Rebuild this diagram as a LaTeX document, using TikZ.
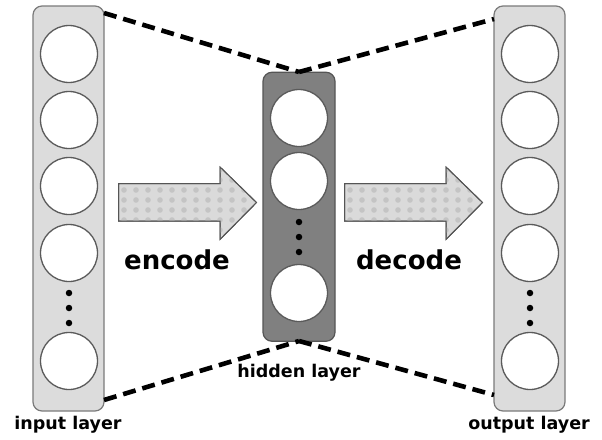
\documentclass[tikz,border=0pt]{standalone}
\usepackage{fontspec}
\setmainfont{DejaVu Sans}
\definecolor{boxfill}{HTML}{DCDCDC}
\definecolor{boxline}{HTML}{7A7A7A}
\definecolor{hidfill}{HTML}{808080}
\definecolor{hidline}{HTML}{555555}
\definecolor{cirline}{HTML}{5A5A5A}
\definecolor{arrfill}{HTML}{DADADA}
\definecolor{arrdot}{HTML}{C4C4C4}
\definecolor{arrline}{HTML}{555555}
\tikzset{
  layerbox/.style={draw=boxline, fill=boxfill, line width=1.2pt, rounded corners=9pt,
    minimum width=71pt, minimum height=405pt, inner sep=0pt},
  hiddenbox/.style={draw=hidline, fill=hidfill, line width=1.2pt, rounded corners=9pt,
    minimum width=72pt, minimum height=269pt, inner sep=0pt},
  neuron/.style={circle, draw=cirline, fill=white, line width=1.3pt, minimum size=57pt, inner sep=0pt},
  dotmark/.style={circle, fill=black, minimum size=6.5pt, inner sep=0pt},
  conn/.style={line width=4.6pt, dash pattern=on 13pt off 7pt},
  caption/.style={font=\bfseries\fontsize{17.5}{17.5}\selectfont, anchor=base, inner sep=0pt},
  bigcap/.style={font=\bfseries\fontsize{26}{26}\selectfont, anchor=base, inner sep=0pt},
  arrowshape/.style={fill=arrfill, draw=arrline, line width=1pt, line join=miter}
}
\begin{document}
\begin{tikzpicture}[x=1pt, y=-1pt]
\useasboundingbox (0,0) rectangle (602,439);
% layer boxes
\node[layerbox] (inbox) at (68.5,208.5) {};
\node[layerbox] (outbox) at (529.5,208.5) {};
\node[hiddenbox] (hidbox) at (299,206.75) {};
% dashed connectors
\coordinate (inTR) at (104,13);
\coordinate (inBR) at (104,400);
\coordinate (outTL) at (494,19);
\coordinate (outBL) at (494,395);
\coordinate (hidT) at (299,72);
\coordinate (hidB) at (299,341);
\draw[conn] (inTR) -- (hidT);
\draw[conn] (hidT) -- (outTL);
\draw[conn] (inBR) -- (hidB);
\draw[conn] (hidB) -- (outBL);
% input / output neurons
\foreach \n/\y in {1/54,2/120,3/186,4/253,5/361} {
  \node[neuron] (i\n) at (69,\y) {};
  \node[neuron] (o\n) at (530,\y) {};
}
\foreach \n/\y in {1/293,2/308,3/323} {
  \node[dotmark] (id\n) at (69,\y) {};
  \node[dotmark] (od\n) at (530,\y) {};
}
% hidden neurons
\foreach \n/\y in {1/118,2/181,3/293} {
  \node[neuron] (h\n) at (299,\y) {};
}
\foreach \n/\y in {1/222,2/237,3/252} {
  \node[dotmark] (hd\n) at (299,\y) {};
}
% arrows
\foreach \xo in {0,226} {
  \begin{scope}[xshift=\xo]
    \path[arrowshape] (118.5,183.5) -- (220,183.5) -- (220,167) -- (256.5,202.5) -- (220,239.5) -- (220,221) -- (118.5,221) -- cycle;
    \begin{scope}
      \clip (118.5,183.5) -- (220,183.5) -- (220,167) -- (256.5,202.5) -- (220,239.5) -- (220,221) -- (118.5,221) -- cycle;
      \foreach \px in {124,136,...,256} {
        \foreach \py in {170,180,...,240} {
          \fill[arrdot] (\px,\py) circle (2.8pt);
        }
      }
    \end{scope}
    \draw[arrline, line width=1pt, line join=miter] (118.5,183.5) -- (220,183.5) -- (220,167) -- (256.5,202.5) -- (220,239.5) -- (220,221) -- (118.5,221) -- cycle;
  \end{scope}
}
% labels
\node[bigcap] (enc) at (177,269) {encode};
\node[bigcap] (dec) at (409,269) {decode};
\node[caption] (inlab) at (68,429) {input layer};
\node[caption] (hidlab) at (299,377) {hidden layer};
\node[caption] (outlab) at (529,429) {output layer};
\end{tikzpicture}
\end{document}
